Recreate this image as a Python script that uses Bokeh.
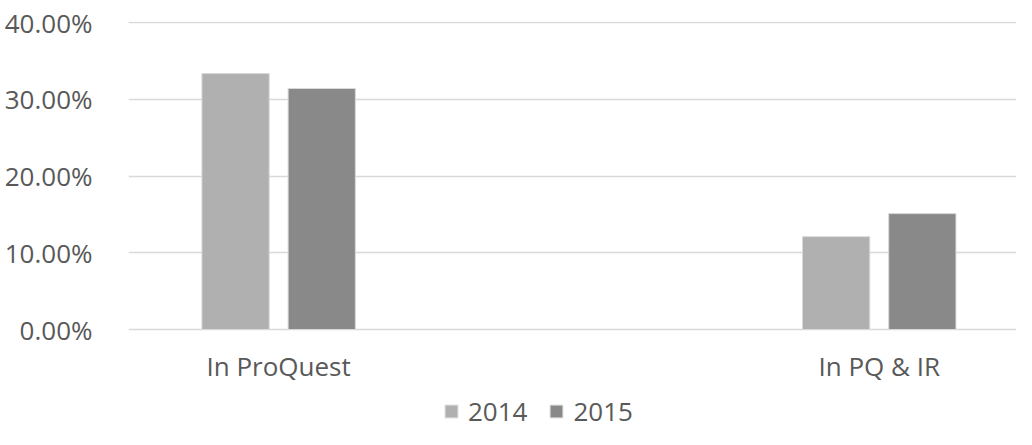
from bokeh.plotting import figure
from bokeh.models import (ColumnDataSource, Range1d, FixedTicker, NumeralTickFormatter,
                          Legend, LegendItem, LinearAxis, LabelSet)
from bokeh.core.properties import value
from bokeh.transform import dodge
from bokeh.embed import file_html
from bokeh.resources import INLINE

categories = ["In ProQuest", "In PQ & IR"]
slots = [0, 2]  # category slots on the axis (middle slot left empty, as in the original)
series = ["2014", "2015"]
values_2014 = [0.3335, 0.1210]
values_2015 = [0.3140, 0.1510]
y_ticks = [0.0, 0.1, 0.2, 0.3, 0.4]
baseline = [0.0, 0.0]

colors = {"2014": "#b0b0b0", "2015": "#898989"}
FONT = "Open Sans"
TXT = "#595959"

src = ColumnDataSource(dict(x=slots, cat=categories, base=baseline,
                            v2014=values_2014, v2015=values_2015))

# plot area extends below the zero line so that category labels and legend sit inside it
k = 0.4 / 307.0          # value per pixel
p = figure(width=1016, height=429, output_backend="svg", toolbar_location=None,
           x_range=Range1d(-0.5, 2.4571), y_range=Range1d(-100 * k, 0.4 + 1 * k),
           min_border_left=128, min_border_right=0, min_border_top=21, min_border_bottom=0,
           x_axis_location=None, y_axis_location=None)
p.outline_line_color = None
p.background_fill_color = "white"
p.border_fill_color = "white"

bw = 0.224
r1 = p.vbar(x=dodge("x", -0.1435, range=p.x_range), top="v2014", bottom="base", width=bw,
            source=src, fill_color=colors["2014"], line_color="#d9d9d9", line_width=1)
r2 = p.vbar(x=dodge("x", 0.1435, range=p.x_range), top="v2015", bottom="base", width=bw,
            source=src, fill_color=colors["2015"], line_color="#d9d9d9", line_width=1)

# y axis
yax = LinearAxis(ticker=FixedTicker(ticks=y_ticks), formatter=NumeralTickFormatter(format="0.00%"))
yax.axis_line_color = None
yax.major_tick_line_color = None
yax.minor_tick_line_color = None
yax.major_label_standoff = 30
yax.major_label_text_font = FONT
yax.major_label_text_font_size = "26px"
yax.major_label_text_color = TXT
p.add_layout(yax, "left")

p.xgrid.visible = False
p.ygrid.ticker = FixedTicker(ticks=y_ticks)
p.ygrid.grid_line_color = "#d9d9d9"
p.ygrid.grid_line_width = 1.5

# category labels under each group
cat_labels = LabelSet(x="x", y="base", text="cat", source=src, y_offset=-46,
                      text_align="center", text_baseline="alphabetic",
                      text_font=value(FONT), text_font_size=value("26px"),
                      text_color=value(TXT))
p.add_layout(cat_labels)

legend = Legend(items=[LegendItem(label=series[0], renderers=[r1]),
                       LegendItem(label=series[1], renderers=[r2])],
                orientation="horizontal", location=(315, 0),
                glyph_width=16, glyph_height=16, label_standoff=9, spacing=21,
                padding=0, margin=0, border_line_color=None, background_fill_alpha=0,
                label_text_font=FONT, label_text_font_size="26px", label_text_color=TXT)
p.add_layout(legend, "center")

open("out.html", "w").write(file_html(p, INLINE))
